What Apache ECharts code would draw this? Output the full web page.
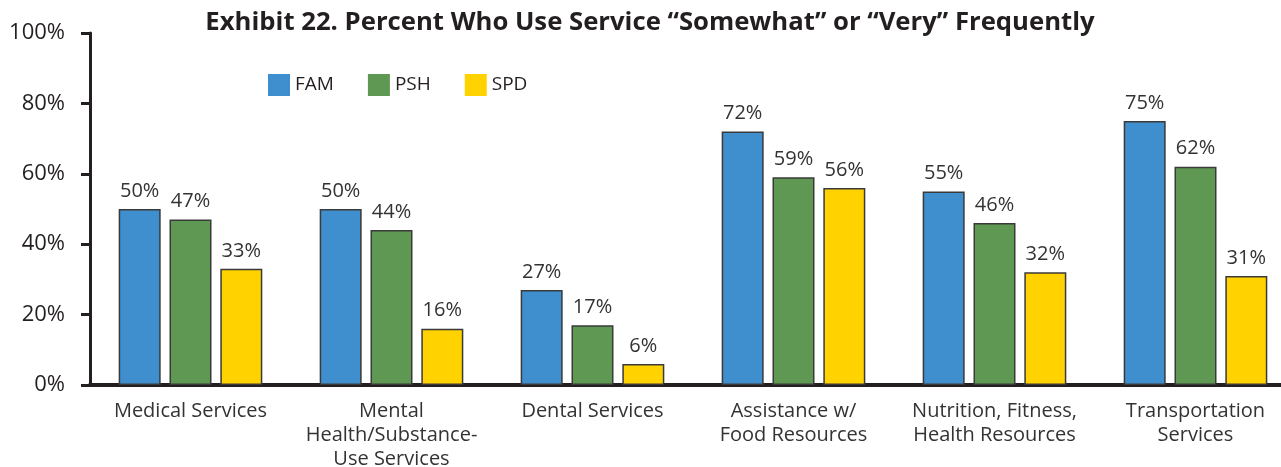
<!DOCTYPE html>
<html>
<head>
<meta charset="utf-8">
<script src="https://cdn.jsdelivr.net/npm/echarts@6/dist/echarts.min.js"></script>
<style>
  html, body { margin: 0; padding: 0; background: #fff; }
  #main { width: 1281px; height: 467px; }
</style>
</head>
<body>
<div id="main"></div>
<script>
const categories = [
  'Medical Services',
  'Mental\nHealth/Substance-\nUse Services',
  'Dental Services',
  'Assistance w/\nFood Resources',
  'Nutrition, Fitness,\nHealth Resources',
  'Transportation\nServices'
];
const famValues = [50, 50, 27, 72, 55, 75];
const pshValues = [47, 44, 17, 59, 46, 62];
const spdValues = [33, 16, 6, 56, 32, 31];
const yTicks = [0, 20, 40, 60, 80, 100];

const font = '"Open Sans", "Noto Sans", sans-serif';

function barSeries(name, data, color) {
  return {
    name: name,
    type: 'bar',
    data: data,
    barWidth: 42,
    barGap: '21%',
    itemStyle: { color: color, borderColor: '#3a3a3a', borderWidth: 1.5 },
    label: {
      show: true,
      position: 'top',
      distance: 8,
      formatter: '{c}%',
      color: '#333',
      fontSize: 20,
      fontFamily: font
    }
  };
}

const chart = echarts.init(document.getElementById('main'));
chart.setOption({
  animation: false,
  title: {
    text: 'Exhibit 22. Percent Who Use Service “Somewhat” or “Very” Frequently',
    left: 645,
    top: 5,
    textAlign: 'center',
    textStyle: { fontFamily: font, fontWeight: 'bold', fontSize: 25.7, color: '#231f20' }
  },
  legend: {
    left: 263,
    top: 69,
    itemWidth: 22,
    itemHeight: 22,
    itemGap: 34,
    icon: 'rect',
    itemStyle: { borderWidth: 0 },
    textStyle: { fontFamily: font, fontSize: 19, color: '#231f20' },
    data: ['FAM', 'PSH', 'SPD']
  },
  grid: { left: 90, top: 33, width: 1206, height: 352, containLabel: false, outerBoundsMode: 'none' },
  xAxis: {
    type: 'category',
    data: categories,
    axisLine: { lineStyle: { color: '#231f20', width: 4 } },
    axisTick: { show: false },
    axisLabel: {
      margin: 14,
      interval: 0,
      color: '#333',
      fontSize: 20,
      lineHeight: 24,
      fontFamily: font
    }
  },
  yAxis: {
    type: 'value',
    min: yTicks[0],
    max: yTicks[yTicks.length - 1],
    interval: 20,
    axisLine: { show: true, lineStyle: { color: '#231f20', width: 3 } },
    axisTick: { show: true, length: 9, lineStyle: { color: '#231f20', width: 3 } },
    splitLine: { show: false },
    axisLabel: {
      margin: 25,
      formatter: '{value}%',
      color: '#231f20',
      fontSize: 22,
      fontFamily: font
    }
  },
  series: [
    barSeries('FAM', famValues, '#3f8ecd'),
    barSeries('PSH', pshValues, '#5f9853'),
    barSeries('SPD', spdValues, '#ffd200')
  ]
});
</script>
</body>
</html>
